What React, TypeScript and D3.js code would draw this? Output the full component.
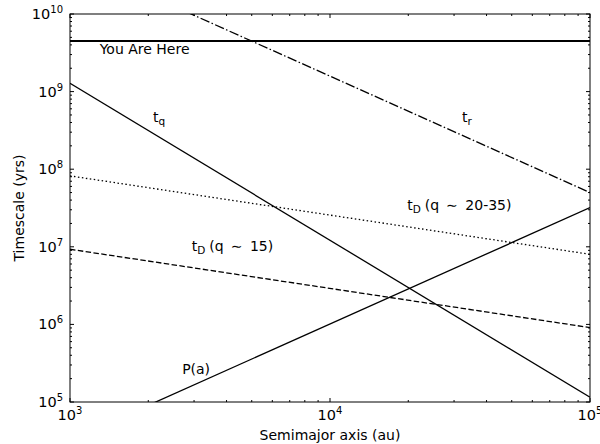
import React from 'react';
import * as d3 from 'd3';

const semimajor = [1e3, 1e5];
const youAreHere = [4.5e9, 4.5e9];
const tQuench = [1.28e9, 1.15e5];
const tRelax = [5.0e10, 5.0e7];
const tDiffHigh = [8.2e7, 8.0e6];
const tDiffLow = [9.3e6, 9.1e5];
const period = [3.2e4, 3.2e7];

const xDomain = [1e3, 1e5];
const yDomain = [1e5, 1e10];

const width = 600;
const height = 444;
const margin = {top: 14, right: 10, bottom: 42, left: 70};
const font = '"DejaVu Sans", sans-serif';

export default function App() {
  const x = d3.scaleLog().domain(xDomain).range([margin.left, width - margin.right]);
  const y = d3.scaleLog().domain(yDomain).range([height - margin.bottom, margin.top]);
  const x0 = margin.left, x1 = width - margin.right;
  const y0 = height - margin.bottom, y1 = margin.top;

  const line = d3.line<[number, number]>()
    .x(d => x(d[0]))
    .y(d => y(d[1]));

  const curves = [
    {key: 'here', values: youAreHere, lw: 2, dash: undefined},
    {key: 'tq', values: tQuench, lw: 1.3, dash: undefined},
    {key: 'tr', values: tRelax, lw: 1.3, dash: '9.6,2.4,1.5,2.4'},
    {key: 'tdh', values: tDiffHigh, lw: 1.3, dash: '1.5,2.5'},
    {key: 'tdl', values: tDiffLow, lw: 1.3, dash: '5.5,2.4'},
    {key: 'p', values: period, lw: 1.3, dash: undefined},
  ];

  const isMajor = (v: number) => Math.abs(Math.log10(v) - Math.round(Math.log10(v))) < 1e-9;
  const xTicks = x.ticks();
  const yTicks = y.ticks();

  const power = (v: number) => Math.round(Math.log10(v));

  return (
    <svg width={width} height={height} style={{position: 'absolute', left: 0, top: 0, background: '#fff'}}
      fontFamily={font}>
      <defs>
        <clipPath id="plot">
          <rect x={x0} y={y1} width={x1 - x0} height={y0 - y1} />
        </clipPath>
      </defs>

      <g clipPath="url(#plot)">
        {curves.map(c => (
          <path key={c.key}
            d={line(semimajor.map((a, i) => [a, c.values[i]] as [number, number])) || ''}
            fill="none" stroke="#000" strokeWidth={c.lw} strokeDasharray={c.dash} />
        ))}
      </g>

      {/* ticks on all four sides, pointing inward */}
      {xTicks.map((t, i) => {
        const len = isMajor(t) ? 4 : 2;
        return (
          <g key={'xt' + i} stroke="#000" strokeWidth={1}>
            <line x1={x(t)} x2={x(t)} y1={y0} y2={y0 - len} />
            <line x1={x(t)} x2={x(t)} y1={y1} y2={y1 + len} />
          </g>
        );
      })}
      {yTicks.map((t, i) => {
        const len = isMajor(t) ? 4 : 2;
        return (
          <g key={'yt' + i} stroke="#000" strokeWidth={1}>
            <line x1={x0} x2={x0 + len} y1={y(t)} y2={y(t)} />
            <line x1={x1} x2={x1 - len} y1={y(t)} y2={y(t)} />
          </g>
        );
      })}

      <rect x={x0} y={y1} width={x1 - x0} height={y0 - y1} fill="none" stroke="#000" strokeWidth={1} />

      {/* tick labels */}
      {xTicks.filter(isMajor).map((t, i) => (
        <text key={'xl' + i} x={x(t)} y={y0 + 17.5} textAnchor="middle" fontSize={14.5}>
          10<tspan fontSize={10} dy={-6}>{power(t)}</tspan>
        </text>
      ))}
      {yTicks.filter(isMajor).map((t, i) => (
        <text key={'yl' + i} x={x0 - 7} y={y(t) + 5} textAnchor="end" fontSize={14.5}>
          10<tspan fontSize={10} dy={-6}>{power(t)}</tspan>
        </text>
      ))}

      {/* axis titles */}
      <text x={(x0 + x1) / 2} y={440} textAnchor="middle" fontSize={14}>Semimajor axis (au)</text>
      <text transform={`translate(24,${(y0 + y1) / 2}) rotate(-90)`} textAnchor="middle" fontSize={14}>
        Timescale (yrs)
      </text>

      {/* curve annotations */}
      <g fontSize={14}>
        <text x={x(1300)} y={y(3.05e9)}>You Are Here</text>
        <text x={x(2085)} y={y(4.06e8)}>t<tspan fontSize={10.5} dy={3}>q</tspan></text>
        <text x={x(32200)} y={y(4.06e8)}>t<tspan fontSize={10.5} dy={3}>r</tspan></text>
        <text x={x(19800)} y={y(2.98e7)}>
          t<tspan fontSize={10.5} dy={3}>D</tspan>
          <tspan dy={-3} dx={4}>(q</tspan><tspan dx={7}>{'\u223c'}</tspan><tspan dx={7.5}>20-35)</tspan>
        </text>
        <text x={x(2940)} y={y(8.8e6)}>
          t<tspan fontSize={10.5} dy={3}>D</tspan>
          <tspan dy={-3} dx={4}>(q</tspan><tspan dx={7}>{'\u223c'}</tspan><tspan dx={7.5}>15)</tspan>
        </text>
        <text x={x(2700)} y={y(2.3e5)}>P(a)</text>
      </g>
    </svg>
  );
}
